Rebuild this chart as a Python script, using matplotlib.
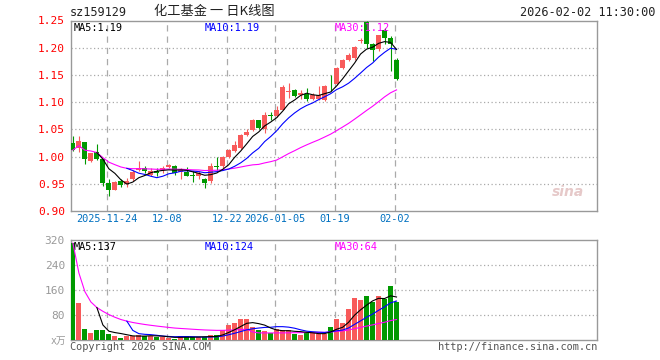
import matplotlib

matplotlib.use("Agg")
import matplotlib.pyplot as plt
import numpy as np
import pandas as pd
from matplotlib.patches import Rectangle

# ---- data (daily K-line, sz159129)
OPEN = [1.025, 1.016, 1.026, 0.992, 1.009, 0.995, 0.952, 0.939, 0.956, 0.949,
        0.958, 0.976, 0.979, 0.967, 0.973, 0.975, 0.980, 0.983, 0.971, 0.971,
        0.967, 0.965, 0.959, 0.955, 0.982, 0.982, 1.000, 1.010, 1.016, 1.039,
        1.048, 1.067, 1.050, 1.076, 1.074, 1.086, 1.119, 1.123, 1.114, 1.115,
        1.106, 1.106, 1.104, 1.132, 1.133, 1.163, 1.178, 1.181, 1.212, 1.248,
        1.207, 1.197, 1.233, 1.217, 1.178]
HIGH = [1.037, 1.037, 1.026, 1.006, 1.024, 0.996, 0.958, 0.955, 0.958, 0.961,
        0.975, 0.991, 0.983, 0.979, 0.979, 0.982, 0.986, 0.985, 0.979, 0.980,
        0.973, 0.973, 0.961, 0.988, 0.999, 1.001, 1.014, 1.028, 1.041, 1.050,
        1.069, 1.068, 1.082, 1.082, 1.092, 1.132, 1.135, 1.124, 1.123, 1.126,
        1.117, 1.129, 1.132, 1.149, 1.164, 1.180, 1.190, 1.203, 1.217, 1.250,
        1.209, 1.224, 1.236, 1.221, 1.181]
LOW = [1.010, 1.008, 0.987, 0.990, 0.993, 0.946, 0.928, 0.938, 0.944, 0.944,
       0.955, 0.973, 0.969, 0.965, 0.964, 0.970, 0.979, 0.967, 0.958, 0.964,
       0.953, 0.958, 0.943, 0.952, 0.976, 0.979, 0.998, 1.008, 1.014, 1.037,
       1.047, 1.051, 1.043, 1.068, 1.073, 1.085, 1.108, 1.110, 1.106, 1.102,
       1.104, 1.104, 1.102, 1.120, 1.131, 1.161, 1.175, 1.178, 1.209, 1.200,
       1.175, 1.194, 1.206, 1.157, 1.140]
CLOSE = [1.012, 1.028, 0.995, 1.006, 0.996, 0.952, 0.939, 0.953, 0.947, 0.956,
         0.971, 0.979, 0.973, 0.973, 0.969, 0.979, 0.984, 0.970, 0.976, 0.965,
         0.965, 0.970, 0.952, 0.982, 0.980, 0.999, 1.012, 1.021, 1.039, 1.046,
         1.067, 1.053, 1.077, 1.074, 1.086, 1.127, 1.121, 1.112, 1.116, 1.106,
         1.113, 1.114, 1.129, 1.131, 1.162, 1.178, 1.187, 1.201, 1.214, 1.207,
         1.195, 1.223, 1.217, 1.207, 1.142]
VOLUME = [310, 119, 35, 23, 32, 32, 19, 13, 7.5, 13,
          13, 16, 13, 13, 11, 8.5, 5.5, 4.5, 13, 13,
          8.5, 8.5, 8.5, 16, 16, 32, 48, 53, 67, 67,
          43, 32, 29, 21, 35, 32, 32, 19, 16, 24,
          24, 19, 19, 43, 67, 55, 99, 134, 128, 141,
          123, 141, 130, 172, 122]

DATE_LABELS = ["2025-11-24", "12-08", "12-22", "2026-01-05", "01-19", "02-02"]
DATE_INDEX = [6, 16, 26, 34, 44, 54]
PRICE_TICKS = [0.90, 0.95, 1.00, 1.05, 1.10, 1.15, 1.20, 1.25]
VOL_TICKS = [80, 160, 240, 320]

RED = "#f85a5a"
GREEN = "#009900"
GRID = "#aaaaaa"
FRAME = "#999999"
MONO = "DejaVu Sans Mono"

W, H = 660, 360
LEFT, RIGHT = 70.5, 597


def fx(x):
    return x / W


def fy(y):
    return 1 - y / H


def ax_frac(x):
    return (x - LEFT) / (RIGHT - LEFT)


def style_axes(ax):
    for s in ax.spines.values():
        s.set_color(FRAME)
        s.set_linewidth(1.0)
    ax.tick_params(length=0)
    for xi in DATE_INDEX:
        ax.axvline(xi - 0.3, color=GRID, lw=0.9, ls=(0, (5, 4)), zorder=1)


def main():
    n = len(CLOSE)
    idx = np.arange(n)
    o, h, l, c = map(np.array, (OPEN, HIGH, LOW, CLOSE))
    vol = np.array(VOLUME, dtype=float)
    up = c >= o
    cols = np.where(up, RED, GREEN)

    close_s = pd.Series(c)
    vol_s = pd.Series(vol)
    ma = {
        5: (close_s.rolling(5).mean(), vol_s.rolling(5).mean()),
        10: (close_s.rolling(10).mean(), vol_s.rolling(10).mean()),
        30: (close_s.rolling(30, min_periods=1).mean(), vol_s.rolling(30, min_periods=1).mean()),
    }
    ma_col = {5: "black", 10: "#0000ff", 30: "#ff00ff"}

    fig = plt.figure(figsize=(6.6, 3.6), dpi=100)
    xlim = (-0.4, 87.45)

    # ---- price panel
    ax = fig.add_axes([fx(LEFT), fy(211), fx(RIGHT) - fx(LEFT), fy(20.5) - fy(211)])
    style_axes(ax)
    for yv in PRICE_TICKS[1:-1]:
        ax.axhline(yv, color=GRID, lw=0.9, ls=(0, (1, 2)), zorder=1)
    bw = 0.8
    for i in idx:
        ax.vlines(i, l[i], h[i], color=cols[i], lw=0.8, zorder=3)
        bot = min(o[i], c[i])
        ht = max(abs(c[i] - o[i]), 0.0008)
        ax.add_patch(Rectangle((i - bw / 2, bot), bw, ht, facecolor=cols[i],
                               edgecolor="none", zorder=3))
    for k in (30, 10, 5):
        ax.plot(idx, ma[k][0], color=ma_col[k], lw=0.8, zorder=4)
    ax.set_xlim(*xlim)
    ax.set_ylim(0.90, 1.25)
    ax.set_yticks(PRICE_TICKS)
    ax.set_yticklabels([f"{v:.2f}" for v in PRICE_TICKS], color="#ff0000",
                       fontsize=8, family=MONO)
    ax.tick_params(axis="y", pad=4)
    ax.set_xticks([xi - 0.3 for xi in DATE_INDEX])
    ax.set_xticklabels(DATE_LABELS, color="#0070c0", fontsize=7.4, family=MONO)
    ax.tick_params(axis="x", pad=2)

    ax.text(0.005, 0.985, "MA5:1.19", transform=ax.transAxes, fontsize=7.4,
            family=MONO, color="black", va="top", ha="left")
    ax.text(ax_frac(205), 0.985, "MA10:1.19", transform=ax.transAxes,
            fontsize=7.4, family=MONO, color="#0000ff", va="top", ha="left")
    ax.text(ax_frac(335), 0.985, "MA30:1.12", transform=ax.transAxes,
            fontsize=7.4, family=MONO, color="#ff00ff", va="top", ha="left")
    ax.text(0.975, 0.1, "sina", transform=ax.transAxes, fontsize=10, style="italic",
            fontweight="bold", color="#e6c9c9", ha="right", va="center")

    # ---- volume panel
    av = fig.add_axes([fx(LEFT), fy(340), fx(RIGHT) - fx(LEFT), fy(240) - fy(340)])
    style_axes(av)
    for yv in VOL_TICKS[:-1]:
        av.axhline(yv, color=GRID, lw=0.9, ls=(0, (1, 2)), zorder=1)
    av.bar(idx, vol, width=bw, color=cols, zorder=3)
    for k in (30, 10, 5):
        av.plot(idx, ma[k][1], color=ma_col[k], lw=0.8, zorder=4)
    av.set_xlim(*xlim)
    av.set_ylim(0, 320)
    av.set_xticks([])
    av.set_yticks(VOL_TICKS)
    av.set_yticklabels([str(v) for v in VOL_TICKS], color="#999999",
                       fontsize=8, family=MONO)
    av.tick_params(axis="y", pad=4)
    av.text(0.005, 0.985, "MA5:137", transform=av.transAxes, fontsize=7.4,
            family=MONO, color="black", va="top", ha="left")
    av.text(ax_frac(205), 0.985, "MA10:124", transform=av.transAxes,
            fontsize=7.4, family=MONO, color="#0000ff", va="top", ha="left")
    av.text(ax_frac(335), 0.985, "MA30:64", transform=av.transAxes,
            fontsize=7.4, family=MONO, color="#ff00ff", va="top", ha="left")

    # ---- header / footer texts
    fig.text(fx(70), fy(12), "sz159129", fontsize=8.6, family=MONO, color="#222222",
             ha="left", va="center")
    fig.text(fx(214), fy(12), "化工基金 一 日K线图", fontsize=9.5,
             family=["Noto Sans CJK SC", "DejaVu Sans"], color="#222222",
             ha="center", va="center")
    fig.text(fx(655), fy(12), "2026-02-02 11:30:00", fontsize=8.6, family=MONO,
             color="#222222", ha="right", va="center")
    fig.text(fx(66), fy(341), "x万", fontsize=7, family=[MONO, "Noto Sans CJK SC"],
             color="#999999", ha="right", va="center")
    fig.text(fx(70), fy(347), "Copyright 2026 SINA.COM", fontsize=7.4, family=MONO,
             color="#555555", ha="left", va="center")
    fig.text(fx(RIGHT), fy(347), "http://finance.sina.com.cn", fontsize=7.4, family=MONO,
             color="#555555", ha="right", va="center")

    fig.savefig("out.png", dpi=100)
    plt.close(fig)


if __name__ == "__main__":
    main()
